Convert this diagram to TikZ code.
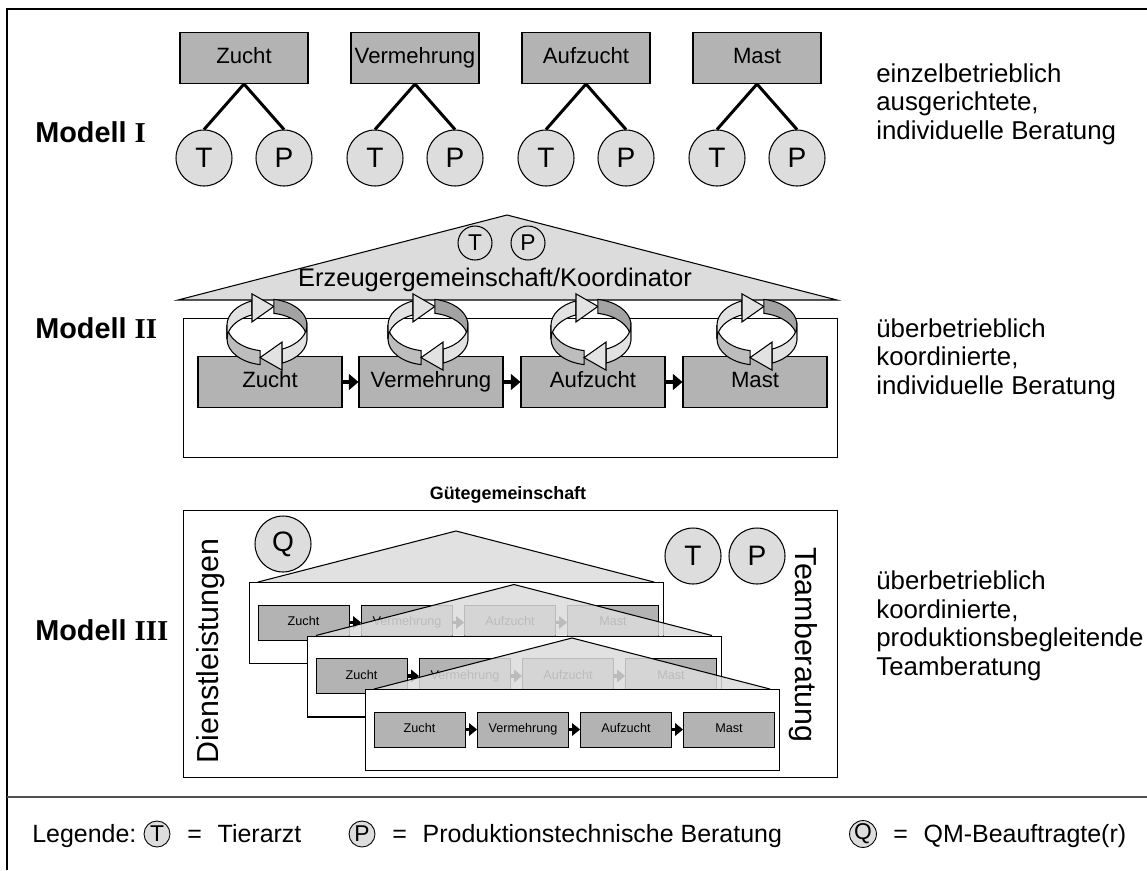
\documentclass[tikz,border=0pt]{standalone}
\usepackage{fontspec}
\setmainfont{Liberation Sans}
\newfontfamily\numeralfont{Liberation Serif}
\usetikzlibrary{arrows.meta}

\definecolor{stagefill}{HTML}{B3B3B3}
\definecolor{rolefill}{HTML}{DDDDDD}
\definecolor{rooffill}{HTML}{DCDCDC}
\definecolor{ringdark}{HTML}{A3A3A3}
\definecolor{ringmid}{HTML}{BDBDBD}
\definecolor{ringlight}{HTML}{E2E2E2}
\definecolor{rulegray}{HTML}{505050}

\tikzset{
  stage/.style={draw, fill=stagefill, line width=0.6pt, inner sep=0pt, text height=9.2pt, text depth=2.6pt, font=\fontsize{12.6}{15}\selectfont},
  stageI/.style={stage, minimum width=2.56cm, minimum height=1.02cm},
  stageII/.style={stage, minimum width=2.88cm, minimum height=1.02cm},
  stageIII/.style={draw, fill=stagefill, line width=0.5pt, inner sep=0pt, text height=5.3pt, text depth=1.5pt, minimum width=1.82cm, minimum height=0.70cm, font=\fontsize{7.2}{9}\selectfont},
  role/.style={circle, draw, fill=rolefill, line width=0.6pt, inner sep=0pt, minimum size=1.12cm, font=\fontsize{16}{18}\selectfont},
  roofrole/.style={circle, draw, line width=0.6pt, inner sep=0pt, minimum size=0.68cm, font=\fontsize{13}{15}\selectfont},
  legrole/.style={circle, draw, fill=rolefill, line width=0.5pt, inner sep=0pt, minimum size=0.52cm, font=\fontsize{13}{15}\selectfont},
  modlabel/.style={anchor=west, inner sep=0pt, font=\bfseries\fontsize{16.4}{19}\selectfont},
  desc/.style={anchor=west, align=left, inner sep=0pt, font=\fontsize{14.7}{16.2}\selectfont},
  legtext/.style={anchor=base west, inner sep=0pt, font=\fontsize{14.2}{17}\selectfont},
  panel/.style={draw, fill=white, line width=0.6pt, inner sep=0pt, anchor=north west},
  layer/.style={panel, minimum width=8.28cm, minimum height=1.62cm},
  roof/.style={fill=rooffill, draw, line width=0.6pt},
  flowII/.style={line width=2.4pt, -{Triangle[length=5.5pt,width=9pt]}},
  flowIII/.style={line width=1.9pt, -{Triangle[length=4.5pt,width=7pt]}},
  link/.style={line width=1.7pt},
  sidetext/.style={font=\fontsize{17.3}{19}\selectfont},
}

% circular double arrow drawn as a twisted band around (#1,#2)
\newcommand\ringarrows[2]{%
  \begin{scope}[line width=0.6pt]
    \filldraw[fill=ringmid] ([shift={(#1,#2-7)}]100:40 and 26) arc[start angle=100,end angle=180,x radius=40,y radius=26] -- ++(0,14) arc[start angle=180,end angle=100,x radius=40,y radius=26] -- cycle;
    \filldraw[fill=ringlight] ([shift={(#1,#2-7)}]180:40 and 26) arc[start angle=180,end angle=248,x radius=40,y radius=26] -- ++(0,14) arc[start angle=248,end angle=180,x radius=40,y radius=26] -- cycle;
    \filldraw[fill=ringlight] ([shift={(#1,#2-14)}]248:40 and 26) -- ([shift={(#1,#2+14)}]248:40 and 26) -- ([shift={(#1,#2)}]280:40 and 26) -- cycle;
    \filldraw[fill=ringdark] ([shift={(#1,#2-7)}]-80:40 and 26) arc[start angle=-80,end angle=-5,x radius=40,y radius=26] -- ++(0,14) arc[start angle=-5,end angle=-80,x radius=40,y radius=26] -- cycle;
    \filldraw[fill=ringlight] ([shift={(#1,#2-7)}]-5:40 and 26) arc[start angle=-5,end angle=68,x radius=40,y radius=26] -- ++(0,14) arc[start angle=68,end angle=-5,x radius=40,y radius=26] -- cycle;
    \filldraw[fill=ringlight] ([shift={(#1,#2-14)}]68:40 and 26) -- ([shift={(#1,#2+14)}]68:40 and 26) -- ([shift={(#1,#2)}]100:40 and 26) -- cycle;
  \end{scope}}

\begin{document}
\begin{tikzpicture}[x=0.02cm, y=-0.02cm]
\useasboundingbox (0,0) rectangle (1147,870);

% outer border and legend rule
\draw[line width=1.2pt] (7,870) -- (7,9) -- (1147,9);
\draw[line width=0.8pt, rulegray] (7,797) -- (1147,797);

% ---------------- Modell I ----------------
\node[modlabel] (mI) at (35,132) {Modell {\numeralfont I}};
\foreach \n/\lab/\cx in {1/Zucht/244, 2/Vermehrung/415, 3/Aufzucht/586, 4/Mast/757} {
  \node[stageI] (sI\n) at (\cx,58) {\lab};
  \node[role] (tI\n) at (\cx-40,158) {T};
  \node[role] (pI\n) at (\cx+40,158) {P};
  \draw[link] (sI\n.south) -- (tI\n.north);
  \draw[link] (sI\n.south) -- (pI\n.north);
}
\node[desc] (dI) at (876,104) {einzelbetrieblich\\ausgerichtete,\\individuelle Beratung};

% ---------------- Modell II ----------------
\node[modlabel] (mII) at (35,328) {Modell {\numeralfont II}};
\filldraw[roof] (178,300) -- (507,215) -- (837,300) -- cycle;
\node[roofrole] (tII) at (475,243) {T};
\node[roofrole] (pII) at (528,243) {P};
\node[font=\fontsize{14.5}{17}\selectfont] (eg) at (495,280) {Erzeugergemeinschaft/Koordinator};
\node[panel, minimum width=13.08cm, minimum height=2.78cm] (frameII) at (183,318) {};
\node[stageII] (sII1) at (270,382) {Zucht};
\node[stageII] (sII2) at (431,382) {Vermehrung};
\node[stageII] (sII3) at (593,382) {Aufzucht};
\node[stageII] (sII4) at (755,382) {Mast};
\draw[flowII] (sII1) -- (sII2);
\draw[flowII] (sII2) -- (sII3);
\draw[flowII] (sII3) -- (sII4);
\ringarrows{267}{332}
\ringarrows{428}{332}
\ringarrows{591}{332}
\ringarrows{757}{332}
\node[desc] (dII) at (876,359) {überbetrieblich\\koordinierte,\\individuelle Beratung};

% ---------------- Modell III ----------------
\node[modlabel] (mIII) at (35,630) {Modell {\numeralfont III}};
\node[font=\bfseries\fontsize{10.2}{12}\selectfont] (guete) at (508,495) {Gütegemeinschaft};
\node[panel, minimum width=13.08cm, minimum height=5.34cm] (frameIII) at (183,510) {};
\node[role] (qIII) at (283,544) {Q};
\node[role] (tIII) at (693,556) {T};
\node[role] (pIII) at (757,556) {P};
\node[sidetext, rotate=90] (dienst) at (211,651) {Dienstleistungen};
\node[sidetext, rotate=-90] (team) at (803,645) {Teamberatung};

\foreach \k in {0,1,2} {
  \pgfmathsetmacro\L{249+58*\k}
  \pgfmathsetmacro\T{582+53.5*\k}
  \filldraw[roof, fill opacity=0.85] (\L+9,\T) -- (\L+207,\T-51) -- (\L+405,\T);
  \node[layer] (lay\k) at (\L,\T) {};
  \node[stageIII] (z\k) at (\L+54.5,\T+40.5) {Zucht};
  \node[stageIII] (v\k) at (\L+158,\T+40.5) {Vermehrung};
  \node[stageIII] (a\k) at (\L+261,\T+40.5) {Aufzucht};
  \node[stageIII] (m\k) at (\L+364,\T+40.5) {Mast};
  \draw[flowIII] (z\k) -- (v\k);
  \draw[flowIII] (v\k) -- (a\k);
  \draw[flowIII] (a\k) -- (m\k);
}
\node[desc] (dIII) at (876,626) {überbetrieblich\\koordinierte,\\produktionsbegleitende\\Teamberatung};

% ---------------- Legende ----------------
\node[legtext] (leg) at (32,842) {Legende:};
\node[legrole] (lt) at (157,834) {T};
\node[legtext] (ltx) at (187,842) {=\hspace{9pt}Tierarzt};
\node[legrole] (lp) at (362,834) {P};
\node[legtext] (lpx) at (392,842) {=\hspace{9pt}Produktionstechnische Beratung};
\node[legrole] (lq) at (863,834) {Q};
\node[legtext] (lqx) at (893,842) {=\hspace{9pt}QM-Beauftragte(r)};
\end{tikzpicture}
\end{document}
